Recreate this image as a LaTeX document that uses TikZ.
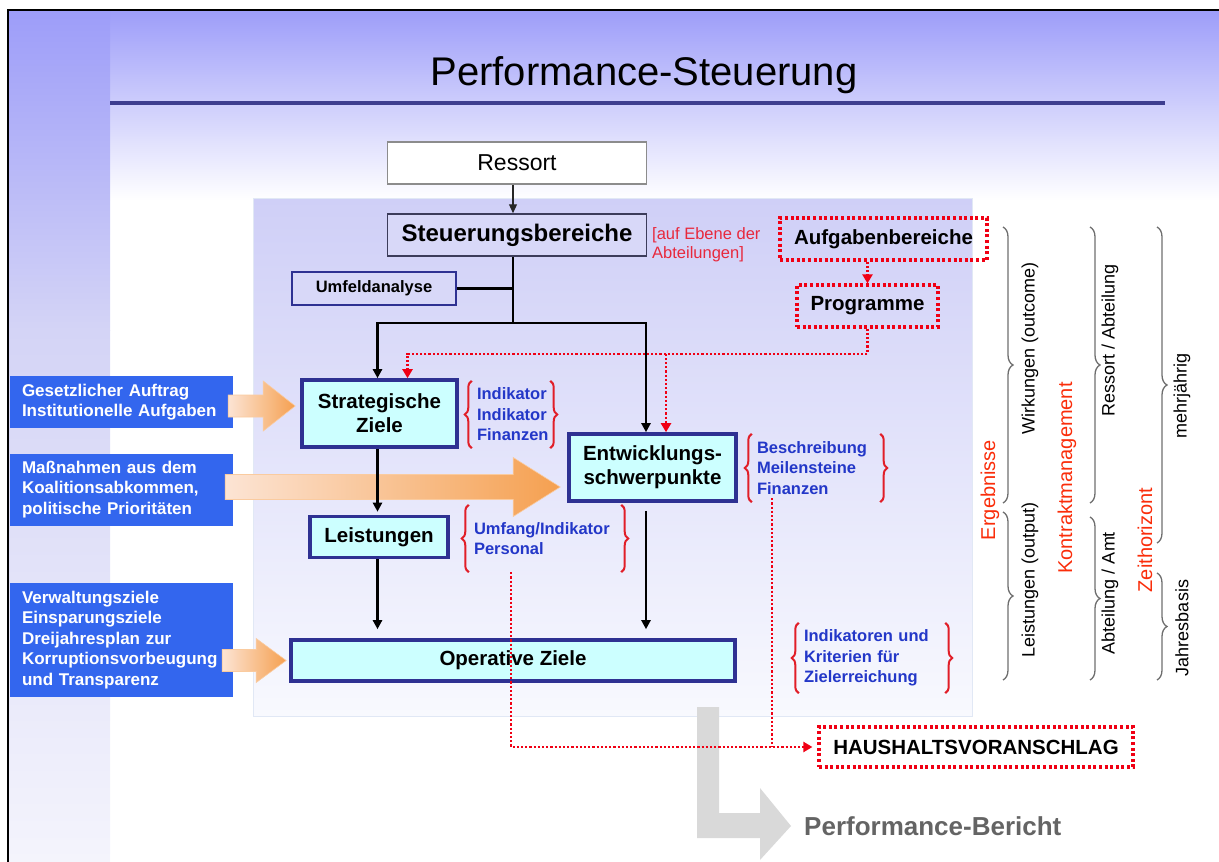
\documentclass[tikz,border=0pt]{standalone}
\usepackage{fontspec}
\setmainfont{Liberation Sans}
\usetikzlibrary{arrows.meta, calc, decorations.pathreplacing, positioning}

\definecolor{navy}{RGB}{46,49,146}
\definecolor{lavtop}{RGB}{157,157,249}
\definecolor{lavband}{RGB}{212,212,246}
\definecolor{lavbot}{RGB}{244,244,252}
\definecolor{lavbox}{RGB}{216,216,248}
\definecolor{panelTop}{RGB}{207,207,247}
\definecolor{panelBot}{RGB}{248,249,254}
\definecolor{panelEdge}{RGB}{225,232,245}
\definecolor{cyanfill}{RGB}{204,255,255}
\definecolor{boxblue}{RGB}{51,102,238}
\definecolor{txtblue}{RGB}{35,55,200}
\definecolor{peach}{RGB}{252,228,212}
\definecolor{orangeA}{RGB}{245,160,80}
\definecolor{redline}{RGB}{240,0,20}
\definecolor{redbrace}{RGB}{225,30,40}
\definecolor{redlabel}{RGB}{250,45,10}
\definecolor{ebenered}{RGB}{232,40,60}
\definecolor{darkline}{RGB}{60,60,90}
\definecolor{bracegray}{RGB}{110,110,110}
\definecolor{bandgray}{RGB}{217,217,217}
\definecolor{berichtgray}{RGB}{100,100,100}
\definecolor{rulenavy}{RGB}{61,61,143}

\newcommand{\fsz}[2]{\fontsize{#1}{#2}\selectfont}
\newcommand{\blockpfeil}[5]{%
  \shadedraw[left color=peach, right color=orangeA, draw=orangeA!55, line width=0.6pt]
    ($(#1)+(0,-#3)$) -- ($(#2)+(-#5,-#3)$) -- ($(#2)+(-#5,-#4)$) -- (#2)
    -- ($(#2)+(-#5,#4)$) -- ($(#2)+(-#5,#3)$) -- ($(#1)+(0,#3)$) -- cycle;}

\tikzset{
  ressortbox/.style={draw=gray!90, line width=1.2pt, fill=white, font=\fsz{23}{26}},
  steuerbox/.style={draw=darkline, line width=1.5pt, fill=lavbox, font=\fsz{24}{26}\bfseries},
  umfeldbox/.style={draw=navy, line width=1.8pt, fill=lavbox, font=\fsz{16.5}{19}\bfseries},
  zielbox/.style={draw=navy, line width=3.6pt, fill=cyanfill, align=center, font=\fsz{20.5}{24}\bfseries},
  rotbox/.style={draw=redline, line width=3.2pt, dash pattern=on 3pt off 2.6pt, font=\fsz{20.5}{24}\bfseries},
  quellbox/.style={fill=boxblue, text=white, minimum width=223pt, text width=199pt, inner xsep=12pt, align=left, font=\fsz{17}{20.5}\bfseries},
  grptext/.style={text=txtblue, align=left, inner xsep=5pt, inner ysep=0pt, font=\fsz{16.5}{20.5}\bfseries},
  rotklammer/.style={decorate, decoration={brace, amplitude=7pt}, draw=redbrace, line width=2pt},
  grauklammer/.style={decorate, decoration={brace, amplitude=10pt}, draw=bracegray, line width=1.3pt},
  seitentext/.style={rotate=90, font=\fsz{18}{20}},
  kopftext/.style={rotate=90, text=redlabel, font=\fsz{20}{22}},
  linie/.style={line width=2.3pt},
  pfeil/.style={linie, -{Triangle[length=9pt, width=9pt]}},
  duennpfeil/.style={line width=1.2pt, draw=black!85, -{Triangle[length=9pt, width=8pt]}},
  rotlinie/.style={draw=redline, line width=2.2pt, dash pattern=on 2.2pt off 2pt},
  rotpfeil/.style={rotlinie, -{Triangle[length=9pt, width=10pt]}},
}

\begin{document}
\begin{tikzpicture}[x=1pt, y=-1pt]
\useasboundingbox (0,0) rectangle (1219,862);
\shade[top color=lavtop, bottom color=white] (8,10) rectangle (1219,200);
\shade[top color=lavtop, bottom color=lavband] (8,10) rectangle (110,330);
\shade[top color=lavband, bottom color=lavbot] (8,330) rectangle (110,862);
\draw[line width=2.5pt] (8,862) -- (8,10) -- (1219,10);

\node[font=\fsz{40}{42}] (titel) at (644,75) {Performance-Steuerung};
\draw[line width=3.8pt, rulenavy] (110,103) -- (1165,103);

\shadedraw[top color=panelTop, bottom color=panelBot, draw=panelEdge] (253,198) rectangle (972,716);

\node[ressortbox, minimum width=259pt, minimum height=42pt] (ressort) at (517,163) {Ressort};
\node[steuerbox, minimum width=259pt, minimum height=42pt] (steuer) at (517,235) {Steuerungsbereiche};
\node[umfeldbox, minimum width=164pt, minimum height=33pt] (umfeld) at (374,288.5) {Umfeldanalyse};
\node[anchor=north west, align=left, inner sep=0pt, text=ebenered, font=\fsz{16.5}{19}] (ebene) at (652,227) {[auf Ebene der\\Abteilungen]};
\node[rotbox, minimum width=207pt, minimum height=42pt] (aufgaben) at (883.5,239) {Aufgabenbereiche};
\node[rotbox, minimum width=141pt, minimum height=42pt] (programme) at (867.5,306) {Programme};

\node[quellbox, minimum height=52pt] (gesetz) at (121.5,402) {Gesetzlicher Auftrag\\Institutionelle Aufgaben};
\node[quellbox, minimum height=72pt] (massn) at (121.5,489.5) {Maßnahmen aus dem\\Koalitionsabkommen,\\politische Prioritäten};
\node[quellbox, minimum height=114pt] (verwalt) at (121.5,640) {Verwaltungsziele\\Einsparungsziele\\Dreijahresplan zur\\Korruptionsvorbeugung\\und Transparenz};

\node[zielbox, minimum width=155pt, minimum height=67pt] (strat) at (379.5,413.5) {Strategische\\Ziele};
\node[zielbox, minimum width=167pt, minimum height=67pt] (entw) at (652.5,467.5) {Entwicklungs-\\schwerpunkte};
\node[zielbox, minimum width=138pt, minimum height=41pt] (leist) at (379,537) {Leistungen};
\node[zielbox, minimum width=444pt, minimum height=41pt] (oper) at (513,660.5) {Operative Ziele};

\node[grptext, text width=68pt, minimum height=67pt] (g1) at (511,414.5) {Indikator\\Indikator\\Finanzen};
\node[grptext, text width=118pt, minimum height=68pt] (g2) at (816,468) {Beschreibung\\Meilensteine\\Finanzen};
\node[grptext, text width=142pt, minimum height=67pt] (g3) at (545,538.5) {Umfang/Indikator\\Personal};
\node[grptext, text width=136pt, minimum height=70pt] (g4) at (872,658) {Indikatoren und\\Kriterien für\\Zielerreichung};
\foreach \g in {g1,g2,g3,g4} {
  \draw[rotklammer] (\g.south west) -- (\g.north west);
  \draw[rotklammer] (\g.north east) -- (\g.south east);
}

\coordinate (a1s) at ($(gesetz.east)+(-5,4)$);
\coordinate (a1e) at ($(a1s -| strat.west)+(-5,0)$);
\blockpfeil{a1s}{a1e}{11}{25}{32}
\coordinate (a2s) at ($(massn.east)+(-8,-2.5)$);
\coordinate (a2e) at ($(a2s -| entw.west)+(-7,0)$);
\blockpfeil{a2s}{a2e}{12.5}{29.5}{47}
\coordinate (a3s) at ($(verwalt.east)+(-11,20.5)$);
\coordinate (a3e) at ($(a3s -| oper.west)+(-3,0)$);
\blockpfeil{a3s}{a3e}{11}{22}{30}

\coordinate (mitte) at ($(steuer.south)+(-4,0)$);
\coordinate (knoten) at ($(mitte)+(0,66)$);
\draw[duennpfeil] (ressort.south -| mitte) -- (steuer.north -| mitte);
\draw[linie] (mitte) -- (knoten);
\draw[linie] (umfeld.east) -- (umfeld.east -| mitte);
\draw[pfeil] (knoten) -| ($(strat.north)+(-2,0)$);
\draw[pfeil] (knoten) -| ($(entw.north)+(-6.5,0)$);

\coordinate (links) at ($(strat.south)+(-2,0)$);
\draw[pfeil, shorten >=3pt] (links) -- (links |- leist.north);
\draw[pfeil, shorten >=9pt] (links |- leist.south) -- (links |- oper.north);
\coordinate (entwab) at ($(entw.south)+(-6.5,0)$);
\draw[pfeil, shorten <=8pt, shorten >=9pt] (entwab) -- (entwab |- oper.north);

\draw[rotpfeil] (aufgaben.south -| programme.north) -- (programme.north);
\coordinate (rotknick) at ($(programme.south)+(0,25)$);
\draw[rotpfeil] (programme.south) -- (rotknick) -| ($(strat.north)+(28,0)$);
\coordinate (entwrot) at ($(entw.north)+(13.5,0)$);
\draw[rotpfeil] (entwrot |- rotknick) -- (entwrot);

\node[font=\fsz{26}{28}\bfseries, text=berichtgray, anchor=west, inner sep=0pt] (bericht) at (804,826) {Performance-Bericht};
\fill[bandgray] (697,707) -- (719,707) -- (719,813) -- (760,813) -- (760,788) -- ($(bericht.west)+(-13,0)$) -- (760,860) -- (760,838) -- (697,838) -- cycle;

\node[rotbox, fill=white, minimum width=314pt, minimum height=40pt] (haushalt) at (976,747) {HAUSHALTSVORANSCHLAG};
\coordinate (umfangab) at ($(g3.south)+(-34,0)$);
\draw[rotpfeil, shorten >=5pt] (umfangab) |- (haushalt.west);
\coordinate (beschrab) at ($(g2.south)+(-44,-4)$);
\draw[rotlinie] (beschrab) -- (beschrab |- haushalt.west);

\draw[grauklammer] (1003,227) -- (1003,503);
\draw[grauklammer] (1003,512) -- (1003,680);
\draw[grauklammer] (1090,227) -- (1090,503);
\draw[grauklammer] (1090,517) -- (1090,680);
\draw[grauklammer] (1157,227) -- (1157,543);
\draw[grauklammer] (1157,573) -- (1157,680);
\node[kopftext] (ergebnisse) at (990,490) {Ergebnisse};
\node[seitentext] (wirkungen) at (1030,348) {Wirkungen (outcome)};
\node[seitentext] (leistout) at (1030,580) {Leistungen (output)};
\node[kopftext] (kontrakt) at (1067,478) {Kontraktmanagement};
\node[seitentext] (ressabt) at (1110,340) {Ressort / Abteilung};
\node[seitentext] (abtamt) at (1110,593) {Abteilung / Amt};
\node[kopftext] (zeit) at (1145,540) {Zeithorizont};
\node[seitentext] (mehrj) at (1182,396) {mehrjährig};
\node[seitentext] (jahresb) at (1182,628) {Jahresbasis};
\end{tikzpicture}
\end{document}
